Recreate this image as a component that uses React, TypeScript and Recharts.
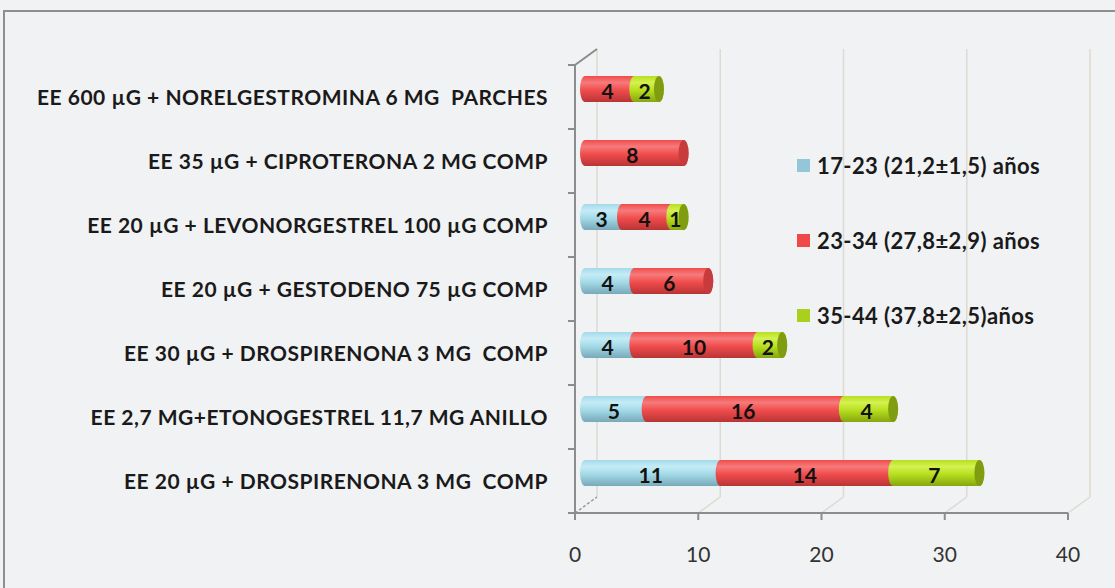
import React from 'react';
import { BarChart, Bar, XAxis, YAxis, CartesianGrid, LabelList } from 'recharts';

const categories = [
  'EE 600 µG + NORELGESTROMINA 6 MG  PARCHES',
  'EE 35 µG + CIPROTERONA 2 MG COMP',
  'EE 20 µG + LEVONORGESTREL 100 µG COMP',
  'EE 20 µG + GESTODENO 75 µG COMP',
  'EE 30 µG + DROSPIRENONA 3 MG  COMP',
  'EE 2,7 MG+ETONOGESTREL 11,7 MG ANILLO',
  'EE 20 µG + DROSPIRENONA 3 MG  COMP',
];
const age1723 = [0, 0, 3, 4, 4, 5, 11];
const age2334 = [4, 8, 4, 6, 10, 16, 14];
const age3544 = [2, 0, 1, 0, 2, 4, 7];
const seriesNames = ['17-23 (21,2±1,5) años', '23-34 (27,8±2,9) años', '35-44 (37,8±2,5)años'];
const xTicks = [0, 10, 20, 30, 40];

const keys = ['a', 'b', 'c'];
const data = categories.map((name, i) => ({ name, a: age1723[i], b: age2334[i], c: age3544[i] }));

const palette = [
  { top: '#c4ecf6', mid: '#a3d9e8', bot: '#78a9b8', cap: '#8fc1d0', legend: '#93c6d6' },
  { top: '#f77a7a', mid: '#f04c4d', bot: '#b93435', cap: '#c83b3c', legend: '#f04848' },
  { top: '#d4f150', mid: '#b7df1f', bot: '#85a60f', cap: '#809c10', legend: '#a9d01c' },
];

const FONT = 'Lato, "Open Sans", sans-serif';
const WDX = 22; // back wall offset
const WDY = 16;
const BDX = 10; // bar depth offset
const BDY = -8;

const makeShape = (si: number) => (props: any) => {
  const { x, y, width, height, payload } = props;
  if (!width || width <= 0) return <g />;
  const X = x + BDX;
  const Y = y + BDY;
  const w = width;
  const h = height;
  const rx = 5;
  const ry = h / 2;
  const isLast = keys.slice(si + 1).every((k) => !payload[k]);
  const c = palette[si];
  const d = `M${X},${Y} L${X + w},${Y} A${rx},${ry} 0 0 1 ${X + w},${Y + h} L${X},${Y + h} A${rx},${ry} 0 0 1 ${X},${Y} Z`;
  return (
    <g>
      <path d={d} fill={`url(#grad${si})`} />
      {isLast && <ellipse cx={X + w} cy={Y + h / 2} rx={rx} ry={ry} fill={c.cap} />}
    </g>
  );
};

const renderLabel = (props: any) => {
  const vb = props.viewBox || {};
  const x = props.x ?? vb.x;
  const y = props.y ?? vb.y;
  const width = props.width ?? vb.width;
  const height = props.height ?? vb.height;
  const { value } = props;
  if (!value) return null;
  return (
    <text
      x={x + BDX + width / 2 - 2}
      y={y + BDY + height / 2 + 1}
      textAnchor="middle"
      dominantBaseline="central"
      fontSize={21}
      fontWeight={700}
      fill="#111"
      fontFamily={FONT}
    >
      {value}
    </text>
  );
};

const gridLine = (props: any) => {
  const { x1, y1, y2, index } = props;
  const first = index === 0;
  return (
    <g key={`g-${x1}`}>
      <line x1={x1 + WDX} y1={y1 - WDY} x2={x1 + WDX} y2={y2 - WDY} stroke="#dcdad1" strokeWidth={1.5} />
      <line
        x1={x1}
        y1={y2}
        x2={x1 + WDX}
        y2={y2 - WDY}
        stroke={first ? '#9a9a9a' : '#dcdad1'}
        strokeWidth={1.5}
        strokeDasharray={first ? '3 2' : undefined}
      />
      {first && <line x1={x1} y1={y1} x2={x1 + WDX} y2={y1 - WDY} stroke="#8c8c8c" strokeWidth={2} />}
    </g>
  );
};

const CategoryTick = (props: any) => {
  const { x, y, payload } = props;
  const half = payload && payload.offset ? payload.offset : 32;
  return (
    <g>
      <line x1={x - 7} y1={y - half} x2={x} y2={y - half} stroke="#8c8c8c" strokeWidth={2} />
      <line x1={x - 7} y1={y + half} x2={x} y2={y + half} stroke="#8c8c8c" strokeWidth={2} />
      <text
        x={x - 27}
        y={y - 1}
        textAnchor="end"
        dominantBaseline="central"
        fontSize={21}
        fontWeight={700}
        fill="#1a1a1a"
        fontFamily={FONT}
        letterSpacing={0.5}
        style={{ whiteSpace: 'pre' }}
      >
        {payload.value}
      </text>
    </g>
  );
};

const legendTops = [165, 240, 315];

export default function App() {
  return (
    <div style={{ position: 'absolute', left: 0, top: 0, width: 1115, height: 588, background: '#f1f2f4', overflow: 'hidden' }}>
      <div
        style={{
          position: 'absolute',
          left: 3,
          top: 10,
          width: 1200,
          height: 700,
          borderTop: '2px solid #8e8e8e',
          borderLeft: '2px solid #8e8e8e',
          boxSizing: 'border-box',
        }}
      />
      <div style={{ position: 'absolute', left: 0, top: 0 }}>
        <BarChart
          width={1115}
          height={588}
          data={data}
          layout="vertical"
          margin={{ top: 65, right: 47, bottom: 30, left: 0 }}
          barSize={26}
        >
          <defs>
            {palette.map((c, i) => (
              <linearGradient key={i} id={`grad${i}`} x1="0" y1="0" x2="0" y2="1">
                <stop offset="0%" stopColor={c.mid} />
                <stop offset="25%" stopColor={c.top} />
                <stop offset="55%" stopColor={c.mid} />
                <stop offset="100%" stopColor={c.bot} />
              </linearGradient>
            ))}
          </defs>
          <CartesianGrid horizontal={false} vertical={gridLine} stroke="#dcdad1" />
          <XAxis
            type="number"
            domain={[0, 40]}
            ticks={xTicks}
            height={45}
            axisLine={{ stroke: '#8c8c8c', strokeWidth: 2 }}
            tickLine={{ stroke: '#8c8c8c', strokeWidth: 2 }}
            tickSize={7}
            tickMargin={27}
            tick={{ fill: '#333', fontSize: 21, fontFamily: FONT }}
          />
          <YAxis
            type="category"
            dataKey="name"
            width={575}
            axisLine={{ stroke: '#8c8c8c', strokeWidth: 2 }}
            tickLine={false}
            tickSize={0}
            tickMargin={0}
            tick={<CategoryTick />}
            interval={0}
          />
          {keys.map((k, i) => (
            <Bar key={k} dataKey={k} stackId="s" name={seriesNames[i]} fill={palette[i].mid} shape={makeShape(i)} isAnimationActive={false}>
              <LabelList dataKey={k} content={renderLabel} />
            </Bar>
          ))}
        </BarChart>
      </div>
      {seriesNames.map((n, i) => (
        <div
          key={n}
          style={{
            position: 'absolute',
            left: 797,
            top: legendTops[i] - 15,
            height: 30,
            display: 'flex',
            alignItems: 'center',
            fontFamily: FONT,
            fontWeight: 700,
            fontSize: 22,
            letterSpacing: 0.4,
            color: '#1a1a1a',
            whiteSpace: 'pre',
          }}
        >
          <span style={{ width: 13, height: 13, background: palette[i].legend, display: 'inline-block', marginRight: 7 }} />
          {n}
        </div>
      ))}
    </div>
  );
}
